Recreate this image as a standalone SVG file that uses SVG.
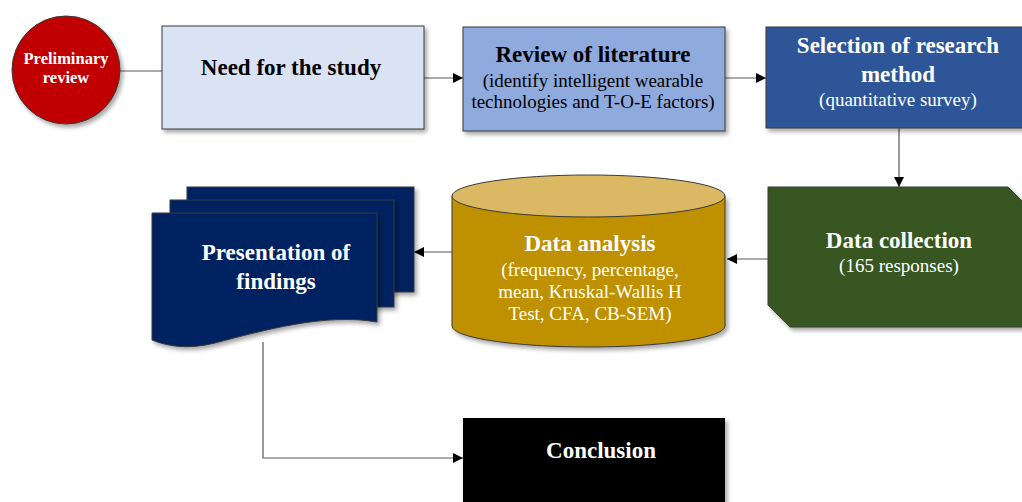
<svg xmlns="http://www.w3.org/2000/svg" width="1022" height="502" viewBox="0 0 1022 502">
  <style>
    .t { font-family: "Liberation Serif", "Times New Roman", serif; text-anchor: middle; }
    .b { font-weight: bold; font-size: 23px; }
    .r { font-size: 19px; }
    .w { fill: #ffffff; }
    .k { fill: #000000; }
    .edge { stroke: #595959; stroke-width: 1.2; fill: none; }
    .shape { stroke: #3a3a3a; stroke-width: 1; }
  </style>
  <defs>
    <filter id="sh" x="-10%" y="-10%" width="130%" height="130%">
      <feDropShadow dx="2.5" dy="3" stdDeviation="2" flood-color="#000" flood-opacity="0.35"/>
    </filter>
    <marker id="ah" viewBox="0 0 10 10" refX="10" refY="5" markerWidth="10" markerHeight="10" markerUnits="userSpaceOnUse" orient="auto">
      <path d="M0,0 L10,5 L0,10 Z" fill="#000"/>
    </marker>
  </defs>
  <rect width="1022" height="502" fill="#ffffff"/>

  <g id="connectors">
    <line class="edge" x1="120" y1="71" x2="162" y2="71"/>
    <line class="edge" x1="424" y1="78" x2="463" y2="78" marker-end="url(#ah)"/>
    <line class="edge" x1="725" y1="78" x2="766" y2="78" marker-end="url(#ah)"/>
    <line class="edge" x1="899" y1="128" x2="899" y2="187" marker-end="url(#ah)"/>
    <line class="edge" x1="768" y1="259" x2="727" y2="259" marker-end="url(#ah)"/>
    <line class="edge" x1="452" y1="252" x2="414" y2="252" marker-end="url(#ah)"/>
    <polyline class="edge" points="263,342 263,458 463,458" marker-end="url(#ah)"/>
  </g>

  <g id="preliminary">
    <circle class="shape" cx="66" cy="70" r="54" fill="#c00000" stroke="#5a0000" filter="url(#sh)"/>
    <text class="t w" x="66" y="64" font-size="16.5" font-weight="bold">Preliminary</text>
    <text class="t w" x="66" y="83" font-size="16.5" font-weight="bold">review</text>
  </g>

  <g id="need">
    <rect class="shape" x="162" y="26" width="262" height="103" fill="#dae3f3" stroke="#595959" filter="url(#sh)"/>
    <text class="t b k" x="291" y="75">Need for the study</text>
  </g>

  <g id="review">
    <rect class="shape" x="463" y="27" width="262" height="104" fill="#8faadc" stroke="#4a5a78" filter="url(#sh)"/>
    <text class="t b k" x="593" y="62">Review of literature</text>
    <text class="t r k" x="593" y="87">(identify intelligent wearable</text>
    <text class="t r k" x="593" y="108">technologies and T-O-E factors)</text>
  </g>

  <g id="selection">
    <rect class="shape" x="766" y="27" width="264" height="101" fill="#2f5597" stroke="#1f3864" filter="url(#sh)"/>
    <text class="t b w" x="898" y="53">Selection of research</text>
    <text class="t b w" x="898" y="82">method</text>
    <text class="t r w" x="898" y="106">(quantitative survey)</text>
  </g>

  <g id="collection">
    <path class="shape" d="M768,187 H1008 L1030,209 V327 H790 L768,305 Z" fill="#385723" stroke="#1e3212" filter="url(#sh)"/>
    <text class="t b w" x="899" y="248">Data collection</text>
    <text class="t r w" x="899" y="272">(165 responses)</text>
  </g>

  <g id="analysis">
    <path class="shape" d="M452,196 V326 A136.5,21 0 0 0 725,326 V196" fill="#bf9000" stroke="#5f4800" filter="url(#sh)"/>
    <ellipse class="shape" cx="588.5" cy="196" rx="136.5" ry="21" fill="#dbb964" stroke="#5f4800"/>
    <text class="t b w" x="590" y="251">Data analysis</text>
    <text class="t r w" x="590" y="276">(frequency, percentage,</text>
    <text class="t r w" x="590" y="298">mean, Kruskal-Wallis H</text>
    <text class="t r w" x="590" y="320">Test, CFA, CB-SEM)</text>
  </g>

  <g id="presentation">
    <rect class="shape" x="187" y="187" width="227" height="105" fill="#002060" stroke="#000c30" filter="url(#sh)"/>
    <rect class="shape" x="170" y="200" width="224" height="107" fill="#002060" stroke="#000c30" filter="url(#sh)"/>
    <path class="shape" d="M152,213 H377 V322 C325,313 265,330 215,343 C187,350 167,346 152,340 Z" fill="#002060" stroke="#000c30" filter="url(#sh)"/>
    <text class="t b w" x="276" y="260">Presentation of</text>
    <text class="t b w" x="276" y="289">findings</text>
  </g>

  <g id="conclusion">
    <rect x="463" y="418" width="262" height="100" fill="#000000" filter="url(#sh)"/>
    <text class="t b w" x="601" y="458">Conclusion</text>
  </g>
</svg>
